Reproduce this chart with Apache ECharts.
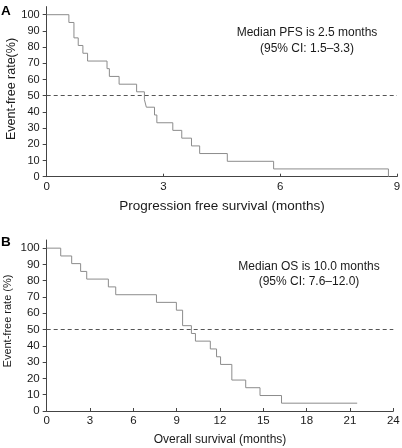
<!DOCTYPE html>
<html>
<head>
<meta charset="utf-8">
<script src="https://cdn.jsdelivr.net/npm/echarts@6/dist/echarts.min.js"></script>
<style>
html,body{margin:0;padding:0;background:#fff;}
#chart{width:402px;height:448px;}
</style>
</head>
<body>
<div id="chart"></div>
<script>
// Panel A: progression-free survival (months) and event-free rate (%)
var pfsTimes = [0, 0.57, 0.70, 0.81, 0.93, 1.05, 1.55, 1.61, 1.86, 2.31, 2.51, 2.56, 2.77, 2.83, 3.24, 3.47, 3.72, 3.93, 4.64, 5.83, 8.78];
var pfsRates = [100, 95.2, 85.7, 81.0, 76.2, 71.4, 66.7, 61.9, 57.1, 52.4, 47.6, 42.9, 38.1, 33.3, 28.6, 23.8, 19.0, 14.3, 9.5, 4.8, 0];
// Panel B: overall survival (months) and event-free rate (%)
var osTimes = [0, 0.97, 1.73, 2.35, 2.77, 4.27, 4.78, 7.60, 8.98, 9.41, 10.02, 10.30, 11.33, 11.76, 12.04, 12.82, 13.78, 14.77, 16.26, 21.5];
var osRates = [100, 95.2, 90.5, 85.7, 81.0, 76.2, 71.4, 66.7, 61.9, 52.4, 47.6, 42.9, 38.1, 33.3, 28.6, 19.0, 14.3, 9.5, 4.8, 4.8];
var yTicks = [0, 10, 20, 30, 40, 50, 60, 70, 80, 90, 100];
var medianLine = 50;

function pairs(xs, ys) { return xs.map(function (x, i) { return [x, ys[i]]; }); }

var FONT = 'Liberation Sans, Arial, sans-serif';
var axisColor = '#444';
var labelColor = '#1a1a1a';

function xAxis(idx, max, interval, fs) {
  return {
    type: 'value', gridIndex: idx, min: 0, max: max, interval: interval,
    axisLine: { show: true, lineStyle: { color: axisColor, width: 1 } },
    axisTick: { show: true, inside: true, length: 3, lineStyle: { color: axisColor } },
    axisLabel: { fontFamily: FONT, fontSize: fs, color: labelColor, margin: 4, hideOverlap: false },
    splitLine: { show: false }
  };
}
function yAxis(idx, fs) {
  return {
    type: 'value', gridIndex: idx, min: 0, max: 105,
    axisLine: { show: true, lineStyle: { color: axisColor, width: 1 } },
    axisTick: { show: true, inside: false, length: 4, customValues: yTicks, lineStyle: { color: axisColor } },
    axisLabel: { fontFamily: FONT, fontSize: fs, color: labelColor, margin: 7, customValues: yTicks },
    splitLine: { show: false }
  };
}
function kmSeries(idx, data) {
  return {
    type: 'line', xAxisIndex: idx, yAxisIndex: idx, step: 'end', data: data,
    showSymbol: false, symbol: 'none', animation: false,
    lineStyle: { color: '#8c8c8c', width: 1 },
    markLine: {
      silent: true, symbol: 'none', animation: false,
      label: { show: false },
      lineStyle: { color: '#555', width: 1, type: [4, 3] },
      data: [{ yAxis: medianLine }]
    }
  };
}
function txt(x, y, s, size, rot) {
  return { type: 'text', x: x, y: y, rotation: rot || 0,
    style: { text: s, font: size + 'px ' + FONT, fill: labelColor, textAlign: 'center', textVerticalAlign: 'middle' } };
}

var chart = echarts.init(document.getElementById('chart'), null, { renderer: 'canvas' });
chart.setOption({
  animation: false,
  backgroundColor: '#fff',
  grid: [
    { left: 46.7, right: 5, top: 6.6, height: 170.1, outerBoundsMode: 'none', containLabel: false },
    { left: 46.7, right: 8.7, top: 240, height: 171, outerBoundsMode: 'none', containLabel: false }
  ],
  xAxis: [ xAxis(0, 9, 3, 11.5), xAxis(1, 24, 3, 11.5) ],
  yAxis: [ yAxis(0, 11), yAxis(1, 11.5) ],
  series: [
    kmSeries(0, pairs(pfsTimes, pfsRates)),
    kmSeries(1, pairs(osTimes, osRates))
  ],
  graphic: [
    { type: 'text', left: 1, top: 4, style: { text: 'A', font: 'bold 13.5px ' + FONT, fill: '#000' } },
    { type: 'text', left: 1, top: 235, style: { text: 'B', font: 'bold 13.5px ' + FONT, fill: '#000' } },
    txt(307, 33, 'Median PFS is 2.5 months', 12),
    txt(307, 49, '(95% CI: 1.5\u20133.3)', 12),
    txt(309, 267, 'Median OS is 10.0 months', 12),
    txt(309, 282, '(95% CI: 7.6\u201312.0)', 12),
    txt(222, 206, 'Progression free survival (months)', 13.5),
    txt(220, 440, 'Overall survival (months)', 12),
    txt(12, 89, 'Event-free rate(%)', 12.5, Math.PI / 2),
    txt(7.5, 321, 'Event-free rate (%)', 11, Math.PI / 2)
  ]
});
</script>
</body>
</html>
